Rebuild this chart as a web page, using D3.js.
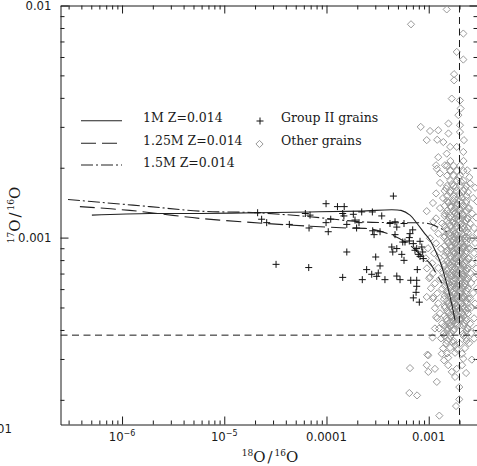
<!DOCTYPE html>
<html><head><meta charset="utf-8">
<script src="https://cdn.jsdelivr.net/npm/d3@7"></script>
<style>body{margin:0;background:#fff}svg{display:block}</style>
</head><body>
<svg id="c" width="477" height="466"></svg>
<script>
// ---- data ----
const xDomain = [2.5e-7, 3e-3];
const yDomain = [1.566e-4, 0.01];
const xTickVals = [1e-6, 1e-5, 1e-4, 1e-3];
const xTickBase = ["10", "10", "0.0001", "0.001"];
const xTickExp = ["\u22126", "\u22125", "", ""];
const yTickVals = [0.01, 0.001, 0.0001];
const yTickLabels = ["0.01", "0.001", "0.0001"];
const solar18 = 2.0e-3;
const solar17 = 3.8e-4;
const seriesNames = ["1M Z=0.014", "1.25M Z=0.014", "1.5M Z=0.014"];
const grainNames = ["Group II grains", "Other grains"];

const model1M = [[5.07e-7,1.25e-3],[1.87e-6,1.27e-3],[5.78e-6,1.27e-3],[2.07e-5,1.28e-3],[6.90e-5,1.29e-3],[2.13e-4,1.30e-3],[5.36e-4,1.31e-3],[6.56e-4,1.25e-3],[7.69e-4,1.15e-3],[8.99e-4,1.05e-3],[1.03e-3,9.74e-4],[1.18e-3,8.64e-4],[1.32e-3,7.68e-4],[1.44e-3,6.74e-4],[1.58e-3,5.81e-4],[1.69e-3,5.11e-4],[1.81e-3,4.40e-4]];
const model125M = [[3.87e-7,1.36e-3],[1.19e-6,1.31e-3],[5.78e-6,1.21e-3],[2.60e-5,1.15e-3],[6.90e-5,1.12e-3],[1.58e-4,1.10e-3],[2.67e-4,1.09e-3],[4.48e-4,1.02e-3],[6.56e-4,9.27e-4],[8.80e-4,8.22e-4],[1.03e-3,7.75e-4],[1.21e-3,6.89e-4],[1.35e-3,6.35e-4]];
const model15M = [[2.96e-7,1.46e-3],[6.08e-7,1.42e-3],[1.87e-6,1.36e-3],[5.78e-6,1.30e-3],[2.07e-5,1.28e-3],[6.90e-5,1.23e-3],[2.13e-4,1.17e-3],[4.18e-4,1.16e-3],[9.84e-4,1.15e-3],[1.18e-3,1.12e-3],[1.50e-3,1.06e-3]];

const groupII = [[4.51e-4,1.51e-3],[9.9e-5,1.40e-3],[1.28e-4,1.36e-3],[1.49e-4,1.36e-3],[2.12e-5,1.28e-3],[6.21e-5,1.27e-3],[6.90e-5,1.25e-3],[1.44e-4,1.27e-3],[1.48e-4,1.24e-3],[1.83e-4,1.26e-3],[2.21e-4,1.29e-3],[2.81e-4,1.29e-3],[3.47e-4,1.24e-3],[2.32e-5,1.20e-3],[2.60e-5,1.16e-3],[4.33e-5,1.14e-3],[6.75e-5,1.10e-3],[1.04e-4,1.06e-3],[9.9e-5,1.16e-3],[1.10e-4,1.20e-3],[1.58e-4,1.14e-3],[1.90e-4,1.19e-3],[1.97e-4,1.10e-3],[2.08e-4,1.16e-3],[4.18e-4,1.15e-3],[4.68e-4,1.17e-3],[4.87e-4,1.11e-3],[5.73e-4,1.15e-3],[2.83e-4,1.07e-3],[2.92e-4,1.03e-3],[3.34e-4,1.06e-3],[4.68e-4,1.03e-3],[6.97e-4,1.08e-3],[6.56e-4,1.04e-3],[6.46e-4,1.0e-3],[5.57e-4,9.57e-4],[5.86e-4,9.57e-4],[7.07e-4,9.42e-4],[8.22e-4,9.64e-4],[7.63e-4,8.97e-4],[8.55e-4,9.11e-4],[8.73e-4,8.67e-4],[8.22e-4,8.30e-4],[4.35e-4,9.11e-4],[4.87e-4,8.97e-4],[4.45e-4,8.67e-4],[5.45e-4,8.47e-4],[5.73e-4,7.98e-4],[1.58e-4,8.67e-4],[3.03e-4,8.25e-4],[3.34e-4,7.55e-4],[2.47e-4,7.28e-4],[2.77e-4,6.95e-4],[3.21e-4,7.04e-4],[3.10e-4,6.81e-4],[3.73e-4,6.59e-4],[2.24e-4,6.59e-4],[1.44e-4,6.74e-4],[4.87e-4,6.83e-4],[5.24e-4,6.59e-4],[6.67e-4,6.55e-4],[7.63e-4,6.55e-4],[7.73e-4,7.28e-4],[7.63e-4,6.17e-4],[7.52e-4,5.81e-4],[7.07e-4,5.50e-4],[8.09e-4,5.27e-4],[3.21e-5,7.67e-4],[6.70e-5,7.43e-4],[6.46e-4,9.67e-4],[7.34e-4,8.82e-4],[7.91e-4,8.47e-4],[8.85e-4,8.12e-4]];

const otherGrains = [
[1.50e-3,9.62e-3],[6.71e-4,8.30e-3],[2.18e-3,7.57e-3],[1.88e-3,6.31e-3],[2.18e-3,5.85e-3],[1.77e-3,5.06e-3],[1.77e-3,4.76e-3],[1.68e-3,3.97e-3],[2.02e-3,3.90e-3],[2.05e-3,3.60e-3],[1.95e-3,3.37e-3],[8.35e-4,3.00e-3],[1.56e-3,3.10e-3],[1.24e-3,2.90e-3],[1.03e-3,2.88e-3],[9.56e-4,2.63e-3],[1.21e-3,2.64e-3],[1.56e-3,2.81e-3],[1.39e-3,2.58e-3],[2.02e-3,2.85e-3],[2.02e-3,3.05e-3],[2.18e-3,2.34e-3],[2.21e-3,2.63e-3],[1.88e-3,2.46e-3],[1.62e-3,2.46e-3],[1.50e-3,2.30e-3],[1.24e-3,2.22e-3],[1.18e-3,2.05e-3],[1.20e-3,1.98e-3],[1.44e-3,2.05e-3],[1.29e-3,1.89e-3],[2.38e-3,1.95e-3],[2.50e-3,1.82e-3],[1.62e-3,1.95e-3],[1.95e-3,1.82e-3],
[1.29e-3,1.72e-3],[1.69e-3,1.70e-3],[2.07e-3,1.74e-3],[2.54e-3,1.71e-3],[1.48e-3,1.63e-3],[1.85e-3,1.65e-3],[2.26e-3,1.62e-3],[2.84e-3,1.64e-3],[1.18e-3,1.55e-3],[1.62e-3,1.56e-3],[1.98e-3,1.54e-3],[2.42e-3,1.57e-3],[1.38e-3,1.48e-3],[1.77e-3,1.47e-3],[2.12e-3,1.49e-3],[2.72e-3,1.48e-3],[1.10e-3,1.41e-3],[1.55e-3,1.42e-3],[1.89e-3,1.40e-3],[2.32e-3,1.41e-3],[2.97e-3,1.43e-3],[1.29e-3,1.34e-3],[1.65e-3,1.35e-3],[2.02e-3,1.33e-3],[2.48e-3,1.34e-3],[1.44e-3,1.27e-3],[1.81e-3,1.28e-3],[2.17e-3,1.26e-3],[2.66e-3,1.27e-3],[1.18e-3,1.21e-3],[1.58e-3,1.22e-3],[1.94e-3,1.20e-3],[2.37e-3,1.21e-3],[2.91e-3,1.22e-3],[1.35e-3,1.15e-3],[1.73e-3,1.16e-3],[2.07e-3,1.14e-3],[2.54e-3,1.15e-3],[1.13e-3,1.10e-3],[1.51e-3,1.09e-3],[1.85e-3,1.11e-3],[2.22e-3,1.10e-3],[2.78e-3,1.10e-3],
[1.24e-3,1.04e-3],[1.62e-3,1.05e-3],[1.89e-3,1.03e-3],[2.12e-3,1.04e-3],[2.42e-3,1.05e-3],[2.97e-3,1.04e-3],[1.03e-3,9.93e-4],[1.41e-3,1.00e-3],[1.73e-3,9.85e-4],[1.98e-3,9.95e-4],[2.26e-3,9.90e-4],[2.66e-3,9.96e-4],[1.18e-3,9.45e-4],[1.55e-3,9.50e-4],[1.81e-3,9.40e-4],[2.07e-3,9.46e-4],[2.37e-3,9.42e-4],[2.84e-3,9.48e-4],[9.84e-4,9.00e-4],[1.32e-3,8.95e-4],[1.65e-3,9.05e-4],[1.89e-3,8.98e-4],[2.17e-3,9.02e-4],[2.54e-3,8.96e-4],[1.13e-3,8.56e-4],[1.48e-3,8.60e-4],[1.77e-3,8.52e-4],[2.02e-3,8.58e-4],[2.32e-3,8.54e-4],[2.78e-3,8.57e-4],[9.38e-4,8.14e-4],[1.26e-3,8.18e-4],[1.62e-3,8.10e-4],[1.85e-3,8.16e-4],[2.12e-3,8.12e-4],[2.48e-3,8.15e-4],[3.05e-3,8.13e-4],[1.08e-3,7.75e-4],[1.41e-3,7.70e-4],[1.69e-3,7.78e-4],[1.94e-3,7.72e-4],[2.22e-3,7.76e-4],[2.66e-3,7.74e-4],[9.60e-4,7.37e-4],[1.24e-3,7.40e-4],[1.55e-3,7.34e-4],[1.81e-3,7.39e-4],[2.07e-3,7.35e-4],[2.37e-3,7.38e-4],[2.91e-3,7.36e-4],[1.10e-3,7.02e-4],[1.38e-3,7.05e-4],[1.65e-3,6.99e-4],[1.89e-3,7.03e-4],[2.17e-3,7.00e-4],[2.54e-3,7.04e-4],[1.01e-3,6.68e-4],[1.29e-3,6.64e-4],[1.58e-3,6.70e-4],[1.81e-3,6.66e-4],[2.02e-3,6.69e-4],[2.32e-3,6.65e-4],[2.78e-3,6.67e-4],[1.15e-3,6.35e-4],[1.48e-3,6.38e-4],[1.73e-3,6.32e-4],[1.98e-3,6.36e-4],[2.26e-3,6.33e-4],[2.60e-3,6.37e-4],[1.05e-3,6.05e-4],[1.35e-3,6.02e-4],[1.62e-3,6.07e-4],[1.85e-3,6.03e-4],[2.12e-3,6.06e-4],[2.42e-3,6.04e-4],[2.97e-3,6.05e-4],[1.21e-3,5.75e-4],[1.51e-3,5.78e-4],[1.77e-3,5.72e-4],[2.02e-3,5.76e-4],[2.32e-3,5.73e-4],[2.72e-3,5.77e-4],[1.10e-3,5.47e-4],[1.41e-3,5.44e-4],[1.65e-3,5.49e-4],[1.89e-3,5.45e-4],[2.17e-3,5.48e-4],[2.54e-3,5.46e-4],
[1.24e-3,5.21e-4],[1.55e-3,5.18e-4],[1.81e-3,5.23e-4],[2.07e-3,5.19e-4],[2.37e-3,5.22e-4],[2.84e-3,5.20e-4],[1.15e-3,4.96e-4],[1.44e-3,4.99e-4],[1.69e-3,4.94e-4],[1.94e-3,4.97e-4],[2.22e-3,4.95e-4],[2.60e-3,4.98e-4],[1.29e-3,4.72e-4],[1.58e-3,4.75e-4],[1.85e-3,4.70e-4],[2.12e-3,4.73e-4],[2.42e-3,4.71e-4],[1.21e-3,4.49e-4],[1.48e-3,4.47e-4],[1.73e-3,4.51e-4],[2.02e-3,4.48e-4],[2.32e-3,4.50e-4],[2.78e-3,4.49e-4],[1.35e-3,4.27e-4],[1.62e-3,4.29e-4],[1.89e-3,4.25e-4],[2.22e-3,4.28e-4],[2.54e-3,4.26e-4],[1.26e-3,4.06e-4],[1.51e-3,4.08e-4],[1.77e-3,4.04e-4],[2.37e-3,4.07e-4],[2.91e-3,4.05e-4],[1.41e-3,3.87e-4],[1.65e-3,3.89e-4],[2.17e-3,3.86e-4],[2.60e-3,3.88e-4],[1.32e-3,3.68e-4],[1.58e-3,3.66e-4],[2.32e-3,3.69e-4],[2.78e-3,3.67e-4],[1.48e-3,3.50e-4],[1.73e-3,3.52e-4],[2.02e-3,3.49e-4],[2.48e-3,3.51e-4],[1.38e-3,3.33e-4],[1.62e-3,3.35e-4],[1.89e-3,3.31e-4],[2.26e-3,3.34e-4],[1.51e-3,3.17e-4],[1.81e-3,3.19e-4],[2.12e-3,3.16e-4],
[1.77e-3,1.01e-3],[2.32e-3,1.01e-3],[1.69e-3,9.18e-4],[1.98e-3,9.20e-4],[2.22e-3,9.16e-4],[1.94e-3,8.31e-4],[2.22e-3,8.33e-4],[1.73e-3,7.52e-4],[1.98e-3,7.55e-4],[2.26e-3,7.50e-4],[1.69e-3,6.81e-4],[1.94e-3,6.83e-4],[2.17e-3,6.79e-4],[1.73e-3,6.17e-4],[1.98e-3,6.19e-4],[2.26e-3,6.15e-4],[1.58e-3,5.58e-4],[1.94e-3,5.60e-4],[2.22e-3,5.56e-4],[1.62e-3,5.06e-4],[1.85e-3,5.08e-4],[1.69e-3,4.58e-4],[1.94e-3,4.60e-4],[1.62e-3,4.15e-4],[2.02e-3,4.17e-4],
[9.56e-4,1.30e-3],[1.11e-3,1.17e-3],[1.03e-3,6.76e-4],[1.11e-3,5.55e-4],[9.56e-4,5.55e-4],[9.91e-4,3.11e-4],
[1.09e-3,3.71e-4],[1.15e-3,4.06e-4],[1.18e-3,4.55e-4],[9.69e-4,3.13e-4],[1.34e-3,3.16e-4],[6.56e-4,2.74e-4],[9.56e-4,2.82e-4],[9.91e-4,2.64e-4],[1.15e-3,2.72e-4],[1.20e-3,2.39e-4],[6.46e-4,2.14e-4],[7.69e-4,2.09e-4],[1.27e-3,1.71e-4],[1.85e-3,1.88e-4],[1.99e-3,2.01e-4],[1.99e-3,2.27e-4],[1.68e-3,2.64e-4],[1.81e-3,2.51e-4],[2.18e-3,3.01e-4],[2.64e-3,2.98e-4],[1.88e-3,2.72e-4],[1.41e-3,2.96e-4],[1.55e-3,2.82e-4],[1.81e-3,3.43e-4],[1.55e-3,3.04e-4],[2.12e-3,2.82e-4],[2.32e-3,2.61e-4]
];

// dense core of the "other grains" column
const otherGrainsCore = [
[1.63e-3,2.14e-3],[2.19e-3,2.14e-3],[1.51e-3,2.04e-3],[1.75e-3,2.04e-3],[2.02e-3,2.04e-3],[1.63e-3,1.94e-3],[1.89e-3,1.94e-3],[2.19e-3,1.94e-3],[1.51e-3,1.85e-3],[1.75e-3,1.85e-3],[2.02e-3,1.85e-3],[1.63e-3,1.76e-3],[1.89e-3,1.76e-3],[2.19e-3,1.76e-3],[1.51e-3,1.67e-3],[1.75e-3,1.67e-3],[2.02e-3,1.67e-3],[2.34e-3,1.67e-3],[1.43e-3,1.59e-3],[1.63e-3,1.59e-3],[1.89e-3,1.59e-3],[2.19e-3,1.59e-3],[1.51e-3,1.51e-3],[1.75e-3,1.51e-3],[2.02e-3,1.51e-3],[2.34e-3,1.51e-3],
[1.51e-3,1.44e-3],[1.75e-3,1.44e-3],[2.02e-3,1.44e-3],[2.34e-3,1.44e-3],[1.43e-3,1.37e-3],[1.63e-3,1.37e-3],[1.89e-3,1.37e-3],[2.19e-3,1.37e-3],[1.51e-3,1.305e-3],[1.75e-3,1.305e-3],[2.02e-3,1.305e-3],[2.34e-3,1.305e-3],[1.43e-3,1.242e-3],[1.63e-3,1.242e-3],[1.89e-3,1.242e-3],[2.19e-3,1.242e-3],[1.51e-3,1.181e-3],[1.75e-3,1.181e-3],[2.02e-3,1.181e-3],[2.34e-3,1.181e-3],[1.43e-3,1.124e-3],[1.63e-3,1.124e-3],[1.89e-3,1.124e-3],[2.19e-3,1.124e-3],[1.51e-3,1.070e-3],[1.75e-3,1.070e-3],[2.02e-3,1.070e-3],[2.34e-3,1.070e-3],[1.43e-3,1.018e-3],[1.63e-3,1.018e-3],[1.89e-3,1.018e-3],[2.19e-3,1.018e-3],
[1.51e-3,9.69e-4],[1.75e-3,9.69e-4],[2.02e-3,9.69e-4],[2.34e-3,9.69e-4],[1.43e-3,9.22e-4],[1.63e-3,9.22e-4],[1.89e-3,9.22e-4],[2.19e-3,9.22e-4],[1.51e-3,8.77e-4],[1.75e-3,8.77e-4],[2.02e-3,8.77e-4],[2.34e-3,8.77e-4],[1.43e-3,8.35e-4],[1.63e-3,8.35e-4],[1.89e-3,8.35e-4],[2.19e-3,8.35e-4],[1.51e-3,7.94e-4],[1.75e-3,7.94e-4],[2.02e-3,7.94e-4],[2.34e-3,7.94e-4],[1.43e-3,7.56e-4],[1.63e-3,7.56e-4],[1.89e-3,7.56e-4],[2.19e-3,7.56e-4],[1.51e-3,7.19e-4],[1.75e-3,7.19e-4],[2.02e-3,7.19e-4],[2.34e-3,7.19e-4],[1.43e-3,6.85e-4],[1.63e-3,6.85e-4],[1.89e-3,6.85e-4],[2.19e-3,6.85e-4],[1.51e-3,6.51e-4],[1.75e-3,6.51e-4],[2.02e-3,6.51e-4],[2.34e-3,6.51e-4],[1.43e-3,6.20e-4],[1.63e-3,6.20e-4],[1.89e-3,6.20e-4],[2.19e-3,6.20e-4],[1.51e-3,5.90e-4],[1.75e-3,5.90e-4],[2.02e-3,5.90e-4],[2.34e-3,5.90e-4],[1.43e-3,5.61e-4],[1.63e-3,5.61e-4],[1.89e-3,5.61e-4],[2.19e-3,5.61e-4],[1.51e-3,5.34e-4],[1.75e-3,5.34e-4],[2.02e-3,5.34e-4],[2.34e-3,5.34e-4],[1.43e-3,5.08e-4],[1.63e-3,5.08e-4],[1.89e-3,5.08e-4],[2.19e-3,5.08e-4],[1.51e-3,4.84e-4],[1.75e-3,4.84e-4],[2.02e-3,4.84e-4],[2.34e-3,4.84e-4],[1.43e-3,4.60e-4],[1.63e-3,4.60e-4],[1.89e-3,4.60e-4],[2.19e-3,4.60e-4],[1.51e-3,4.38e-4],[1.75e-3,4.38e-4],[2.02e-3,4.38e-4],[2.34e-3,4.38e-4],[1.43e-3,4.17e-4],[1.63e-3,4.17e-4],[1.89e-3,4.17e-4],[2.19e-3,4.17e-4],[1.51e-3,3.97e-4],[1.75e-3,3.97e-4],[2.34e-3,3.97e-4],[1.43e-3,3.77e-4],[1.63e-3,3.77e-4],[2.19e-3,3.77e-4],[1.51e-3,3.59e-4],[1.75e-3,3.59e-4],[2.34e-3,3.59e-4],
[1.56e-3,1.41e-3],[1.81e-3,1.41e-3],[2.09e-3,1.41e-3],[1.81e-3,1.34e-3],[2.09e-3,1.34e-3],[2.42e-3,1.34e-3],[1.56e-3,1.27e-3],[1.81e-3,1.27e-3],[2.09e-3,1.27e-3],[1.81e-3,1.21e-3],[2.09e-3,1.21e-3],[2.42e-3,1.21e-3],[1.56e-3,1.15e-3],[1.81e-3,1.15e-3],[2.09e-3,1.15e-3],[1.81e-3,1.10e-3],[2.09e-3,1.10e-3],[2.42e-3,1.10e-3],[1.56e-3,1.04e-3],[1.81e-3,1.04e-3],[2.09e-3,1.04e-3],[1.81e-3,9.93e-4],[2.09e-3,9.93e-4],[2.42e-3,9.93e-4],[1.56e-3,9.45e-4],[1.81e-3,9.45e-4],[2.09e-3,9.45e-4],[1.81e-3,9.00e-4],[2.09e-3,9.00e-4],[2.42e-3,9.00e-4],[1.56e-3,8.56e-4],[1.81e-3,8.56e-4],[2.09e-3,8.56e-4],[1.81e-3,8.14e-4],[2.09e-3,8.14e-4],[2.42e-3,8.14e-4],[1.56e-3,7.75e-4],[1.81e-3,7.75e-4],[2.09e-3,7.75e-4],[1.81e-3,7.37e-4],[2.09e-3,7.37e-4],[2.42e-3,7.37e-4],[1.56e-3,7.02e-4],[1.81e-3,7.02e-4],[2.09e-3,7.02e-4],[1.81e-3,6.68e-4],[2.09e-3,6.68e-4],[2.42e-3,6.68e-4],[1.56e-3,6.35e-4],[1.81e-3,6.35e-4],[2.09e-3,6.35e-4],[1.81e-3,6.05e-4],[2.09e-3,6.05e-4],[2.42e-3,6.05e-4],[1.56e-3,5.75e-4],[1.81e-3,5.75e-4],[2.09e-3,5.75e-4],[1.81e-3,5.47e-4],[2.09e-3,5.47e-4],[2.42e-3,5.47e-4],[1.56e-3,5.21e-4],[1.81e-3,5.21e-4],[2.09e-3,5.21e-4],[1.81e-3,4.96e-4],[2.09e-3,4.96e-4],[2.42e-3,4.96e-4],[1.56e-3,4.72e-4],[1.81e-3,4.72e-4],[2.09e-3,4.72e-4],[1.81e-3,4.49e-4],[2.09e-3,4.49e-4],[1.56e-3,4.27e-4],[1.81e-3,4.27e-4],[1.56e-3,4.06e-4],[2.42e-3,4.06e-4]
];

// ---- drawing ----
const svg = d3.select("#c");
const L = 60.5, R = 477.5, T = 5.5, B = 424.5;
const x = d3.scaleLog().domain(xDomain).range([L, R]);
const y = d3.scaleLog().domain(yDomain).range([B, T]);
const ink = "#1a1a1a";

svg.append("defs").append("clipPath").attr("id", "clip")
  .append("rect").attr("x", L).attr("y", T).attr("width", R - L).attr("height", B - T);

const isMajor = v => Math.abs(Math.log10(v) - Math.round(Math.log10(v))) < 1e-6;
const xt = x.ticks().filter(v => v >= xDomain[0] && v <= xDomain[1]);
const yt = y.ticks().filter(v => v >= yDomain[0] && v <= yDomain[1]);

function styleAxis(g, dir) {
  g.select(".domain").attr("stroke", ink).attr("stroke-width", 1);
  g.selectAll(".tick line").attr("stroke", ink).attr("stroke-width", 1)
    .each(function(d) {
      const len = isMajor(d) ? 8 : 4;
      const el = d3.select(this);
      if (dir === "b") el.attr("y2", -len);
      if (dir === "t") el.attr("y2", len);
      if (dir === "l") el.attr("x2", len);
      if (dir === "r") el.attr("x2", -len);
    });
  g.selectAll(".tick text").remove();
}
svg.append("g").attr("transform", `translate(0,${B})`)
  .call(d3.axisBottom(x).tickValues(xt).tickFormat("").tickSizeOuter(0)).call(g => styleAxis(g, "b"));
svg.append("g").attr("transform", `translate(0,${T})`)
  .call(d3.axisTop(x).tickValues(xt).tickFormat("").tickSizeOuter(0)).call(g => styleAxis(g, "t"));
svg.append("g").attr("transform", `translate(${L},0)`)
  .call(d3.axisLeft(y).tickValues(yt).tickFormat("").tickSizeOuter(0)).call(g => styleAxis(g, "l"));
svg.append("g").attr("transform", `translate(${R},0)`)
  .call(d3.axisRight(y).tickValues(yt).tickFormat("").tickSizeOuter(0)).call(g => styleAxis(g, "r"));

// x tick labels
const tickFont = "DejaVu Sans, sans-serif";
xTickVals.forEach((v, i) => {
  const t = svg.append("text").attr("x", x(v)).attr("y", 441).attr("text-anchor", "middle")
    .attr("font-family", tickFont).attr("font-size", 11.7).attr("fill", ink);
  t.append("tspan").text(xTickBase[i]);
  if (xTickExp[i]) t.append("tspan").attr("font-size", 8).attr("dy", -5).text(xTickExp[i]);
});
// y tick labels (the lowest one sits, clipped, at the bottom-left corner as in the reference)
yTickVals.forEach((v, i) => {
  let py = y(v), px = L - 9;
  if (py > B) { py = 429; px = 12; }
  svg.append("text").attr("x", px).attr("y", py + 4.3).attr("text-anchor", "end")
    .attr("font-family", tickFont).attr("font-size", 11.7).attr("fill", ink).text(yTickLabels[i]);
});

// axis titles
const serif = "DejaVu Serif, serif";
function isoTitle(sel, a, b) {
  sel.append("tspan").attr("font-size", 9).attr("dy", -6).text(a);
  sel.append("tspan").attr("font-size", 15).attr("dy", 6).text("O");
  sel.append("tspan").attr("font-size", 15).attr("dx", 2).text("/");
  sel.append("tspan").attr("font-size", 9).attr("dx", 2).attr("dy", -6).text(b);
  sel.append("tspan").attr("font-size", 15).attr("dy", 6).text("O");
}
svg.append("text").attr("x", 270).attr("y", 462).attr("text-anchor", "middle")
  .attr("font-family", serif).attr("fill", ink).call(s => isoTitle(s, "18", "16"));
svg.append("text").attr("transform", "translate(20,215) rotate(-90)").attr("text-anchor", "middle")
  .attr("font-family", serif).attr("fill", ink).call(s => isoTitle(s, "17", "16"));

const plot = svg.append("g").attr("clip-path", "url(#clip)");

// other grains (diamonds)
const r = 3.6;
const diamond = d => `M${x(d[0])},${y(d[1]) - r}L${x(d[0]) + r},${y(d[1])}L${x(d[0])},${y(d[1]) + r}L${x(d[0]) - r},${y(d[1])}Z`;
plot.append("g").selectAll("path").data(otherGrains.concat(otherGrainsCore)).join("path")
  .attr("d", diamond)
  .attr("fill", "none").attr("stroke", "#999").attr("stroke-width", 1);

// solar reference lines
plot.append("line").attr("x1", x(solar18)).attr("x2", x(solar18)).attr("y1", T).attr("y2", B)
  .attr("stroke", ink).attr("stroke-width", 1).attr("stroke-dasharray", "7,4.5");
plot.append("line").attr("x1", L).attr("x2", R).attr("y1", y(solar17)).attr("y2", y(solar17))
  .attr("stroke", ink).attr("stroke-width", 1).attr("stroke-dasharray", "7,4.5");

// model lines
const line = d3.line().x(d => x(d[0])).y(d => y(d[1])).curve(d3.curveCatmullRom);
const models = [model1M, model125M, model15M];
const dashes = [null, "15,6", "12,3,2,3"];
models.forEach((m, i) => {
  plot.append("path").datum(m).attr("d", line).attr("fill", "none")
    .attr("stroke", "#222").attr("stroke-width", 1.1).attr("stroke-dasharray", dashes[i]);
});

// group II grains (+)
const pr = 3.5;
plot.append("g").selectAll("path").data(groupII).join("path")
  .attr("d", d => `M${x(d[0]) - pr},${y(d[1])}H${x(d[0]) + pr}M${x(d[0])},${y(d[1]) - pr}V${y(d[1]) + pr}`)
  .attr("stroke", "#111").attr("stroke-width", 1);

// legend
const legRows = [120.7, 143.3, 165];
seriesNames.forEach((name, i) => {
  svg.append("line").attr("x1", 81).attr("x2", 122).attr("y1", legRows[i]).attr("y2", legRows[i])
    .attr("stroke", "#222").attr("stroke-width", 1.1).attr("stroke-dasharray", dashes[i]);
  svg.append("text").attr("x", 143).attr("y", legRows[i] + 1.5).attr("font-family", serif)
    .attr("font-size", 12.5).attr("fill", ink).text(name);
});
svg.append("path").attr("d", `M${260 - pr},121H${260 + pr}M260,${121 - pr}V${121 + pr}`)
  .attr("stroke", "#111").attr("stroke-width", 1);
svg.append("path").attr("d", `M259.5,${144 - r}L${259.5 + r},144L259.5,${144 + r}L${259.5 - r},144Z`)
  .attr("fill", "none").attr("stroke", "#999").attr("stroke-width", 1);
grainNames.forEach((name, i) => {
  svg.append("text").attr("x", 281).attr("y", legRows[i] + 1.5).attr("font-family", serif)
    .attr("font-size", 12.5).attr("fill", ink).text(name);
});
</script>
</body></html>
